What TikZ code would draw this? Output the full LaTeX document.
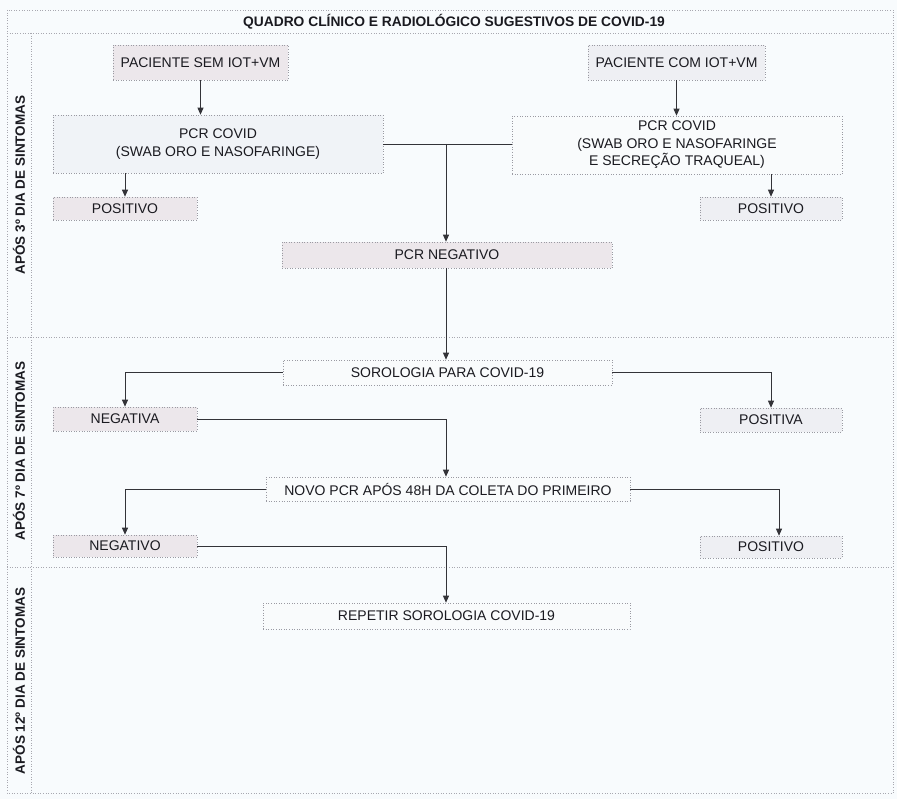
\documentclass[tikz,border=0pt]{standalone}
\usepackage{fontspec}
\setmainfont{Liberation Sans}
\usetikzlibrary{arrows.meta}
\definecolor{bg}{HTML}{F8FBFD}
\definecolor{pinkbox}{HTML}{ECE7EB}
\definecolor{bluebox}{HTML}{F0F3F7}
\definecolor{greybox}{HTML}{EEEFF3}
\definecolor{whitebox}{HTML}{F9FBFC}
\definecolor{framec}{HTML}{A8A8B0}
\definecolor{boxline}{HTML}{9A9AA2}
\definecolor{linec}{HTML}{333338}
\definecolor{txt}{HTML}{1A1A20}
\begin{document}
\begin{tikzpicture}[x=1pt,y=-1pt,
  frame/.style={draw=framec,line width=0.6pt,dotted},
  box/.style={draw=boxline,line width=0.6pt,dotted,rectangle,inner sep=0pt,
    font=\fontsize{14}{17.5}\selectfont,text=txt,align=center},
  conn/.style={draw=linec,line width=0.8pt,-{Triangle[width=6pt,length=7pt]}},
  plain/.style={draw=linec,line width=0.8pt},
  side/.style={rotate=90,font=\bfseries\fontsize{13.5}{15}\selectfont,text=txt},
]
\useasboundingbox (0,0) rectangle (897,799);
\fill[bg] (0,0) rectangle (897,799);
% frame
\draw[frame] (7,10) rectangle (893,793);
\draw[frame] (7,33) -- (893,33);
\draw[frame] (31,33) -- (31,793);
\draw[frame] (7,337) -- (893,337);
\draw[frame] (7,567) -- (893,567);
\node[font=\bfseries\fontsize{13.8}{15}\selectfont,text=txt] (title) at (454,22) {QUADRO CLÍNICO E RADIOLÓGICO SUGESTIVOS DE COVID-19};
\node[side] (s1) at (19,185) {APÓS 3º DIA DE SINTOMAS};
\node[side] (s2) at (19,451) {APÓS 7º DIA DE SINTOMAS};
\node[side] (s3) at (19,681) {APÓS 12º DIA DE SINTOMAS};
% nodes
\node[box,fill=pinkbox,minimum width=175pt,minimum height=35pt] (sem) at (200.5,62.5) {PACIENTE SEM IOT+VM};
\node[box,fill=greybox,minimum width=177pt,minimum height=35pt] (com) at (676.5,62.5) {PACIENTE COM IOT+VM};
\node[box,fill=bluebox,minimum width=330pt,minimum height=58pt] (pcrl) at (218,144) {PCR COVID\\(SWAB ORO E NASOFARINGE)};
\node[box,fill=whitebox,minimum width=330pt,minimum height=58pt] (pcrr) at (677,145) {PCR COVID\\(SWAB ORO E NASOFARINGE\\E SECREÇÃO TRAQUEAL)};
\node[box,fill=pinkbox,minimum width=144pt,minimum height=23pt] (posl) at (125,208.5) {POSITIVO};
\node[box,fill=greybox,minimum width=142pt,minimum height=23pt] (posr) at (771,208.5) {POSITIVO};
\node[box,fill=pinkbox,minimum width=330pt,minimum height=26pt] (neg) at (447,255) {PCR NEGATIVO};
\node[box,fill=whitebox,minimum width=329pt,minimum height=25pt] (soro) at (447.5,372.5) {SOROLOGIA PARA COVID-19};
\node[box,fill=pinkbox,minimum width=144pt,minimum height=24pt] (nega) at (125,419) {NEGATIVA};
\node[box,fill=greybox,minimum width=142pt,minimum height=24pt] (posa) at (771,420) {POSITIVA};
\node[box,fill=whitebox,minimum width=364pt,minimum height=24pt] (novo) at (448,489) {NOVO PCR APÓS 48H DA COLETA DO PRIMEIRO};
\node[box,fill=pinkbox,minimum width=144pt,minimum height=22pt] (nego) at (125,546) {NEGATIVO};
\node[box,fill=greybox,minimum width=142pt,minimum height=22pt] (poso) at (771,547) {POSITIVO};
\node[box,fill=whitebox,minimum width=367pt,minimum height=26pt] (rep) at (446.5,616) {REPETIR SOROLOGIA COVID-19};
% connectors
\coordinate (j) at (446,144);
\draw[conn] (sem) -- (sem|-pcrl.north);
\draw[conn] (com) -- (com|-pcrr.north);
\draw[conn] (posl|-pcrl.south) -- (posl.north);
\draw[conn] (posr|-pcrr.south) -- (posr.north);
\draw[plain] (pcrl.east) -- (pcrr.west|-pcrl.east);
\draw[conn] (j) -- (j|-neg.north);
\draw[conn] (j|-neg.south) -- (j|-soro.north);
\draw[conn] (soro.west) -| (nega.north);
\draw[conn] (soro.east) -| (posa.north);
\draw[conn] (nega.east) -| (j|-novo.north);
\draw[conn] (novo.west) -| (nego.north);
\draw[conn] (novo.east) -| ([xshift=8pt]poso.north);
\draw[conn] (nego.east) -| (j|-rep.north);
\end{tikzpicture}
\end{document}
